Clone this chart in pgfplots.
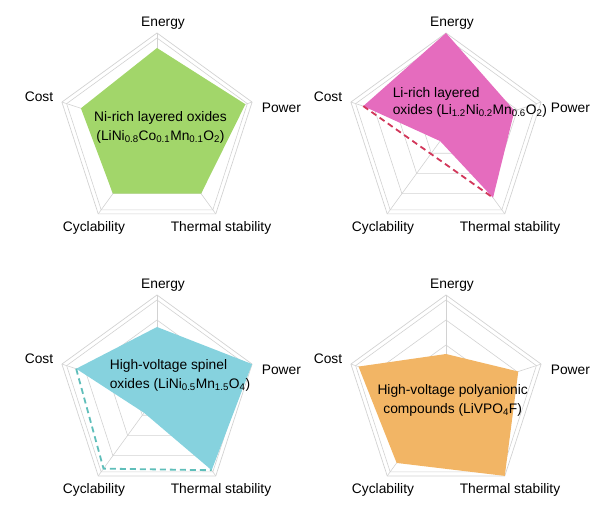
\documentclass[border=0pt]{standalone}
\usepackage{pgfplots}
\pgfplotsset{compat=1.18}
\usepackage{fontspec}
\setmainfont{Liberation Sans}

\definecolor{gridc}{RGB}{210,210,210}
\definecolor{cgreen}{RGB}{162,214,106}
\definecolor{cpink}{RGB}{229,108,190}
\definecolor{cblue}{RGB}{134,210,222}
\definecolor{corange}{RGB}{242,181,101}
\definecolor{dpink}{RGB}{210,55,90}
\definecolor{dteal}{RGB}{95,190,186}

\pgfplotsset{radar/.style={hide axis, anchor=origin, x=100bp, y=100bp,
  xmin=-1.05, xmax=1.05, ymin=-1.05, ymax=1.05, clip=false,
  every axis plot/.append style={line join=round}}}

\newcommand\radargrid{%
  \addplot[gridc, line width=0.7bp, data cs=polar] coordinates {(90,1)(18,1)(-54,1)(-126,1)(162,1)(90,1)};
  \addplot[gridc, line width=0.6bp, data cs=polar] coordinates {(90,0.95)(18,0.95)(-54,0.95)(-126,0.95)(162,0.95)(90,0.95)};
  \addplot[gridc, line width=0.6bp, data cs=polar] coordinates {(90,0.75)(18,0.75)(-54,0.75)(-126,0.75)(162,0.75)(90,0.75)};
  \addplot[gridc, line width=0.6bp, data cs=polar] coordinates {(90,0.5)(18,0.5)(-54,0.5)(-126,0.5)(162,0.5)(90,0.5)};
  \addplot[gridc, line width=0.6bp, data cs=polar] coordinates {(90,0.25)(18,0.25)(-54,0.25)(-126,0.25)(162,0.25)(90,0.25)};
  \addplot[gridc, line width=0.6bp, data cs=polar] coordinates {(90,0)(90,1)};
  \addplot[gridc, line width=0.6bp, data cs=polar] coordinates {(18,0)(18,1)};
  \addplot[gridc, line width=0.6bp, data cs=polar] coordinates {(-54,0)(-54,1)};
  \addplot[gridc, line width=0.6bp, data cs=polar] coordinates {(-126,0)(-126,1)};
  \addplot[gridc, line width=0.6bp, data cs=polar] coordinates {(162,0)(162,1)};
}
\newcommand\radarlabels{%
  \node at (0.06,1.10) {Energy};
  \node[anchor=east] at (-0.99,0.36) {Cost};
  \node[anchor=west] at (1.0,0.25) {Power};
  \node at (-0.63,-0.95) {Cyclability};
  \node at (0.64,-0.95) {Thermal stability};
}

\begin{document}
\fontsize{13.8bp}{19bp}\selectfont
\begin{tikzpicture}
% Chart 1
\begin{axis}[radar, at={(157bp,394bp)}]
  \radargrid
  \addplot[fill=cgreen, draw=none, data cs=polar] coordinates {(90,0.85)(18,0.93)(-54,0.75)(-126,0.75)(162,0.80)(90,0.85)};
  \radarlabels
  \node[align=center] at (0.035,0.06) {Ni-rich layered oxides\\(LiNi\textsubscript{0.8}Co\textsubscript{0.1}Mn\textsubscript{0.1}O\textsubscript{2})};
\end{axis}
% Chart 2
\begin{axis}[radar, at={(446bp,394bp)}]
  \radargrid
  \addplot[fill=cpink, draw=none, data cs=polar] coordinates {(90,1.0)(18,0.72)(-54,0.80)(-126,0.10)(162,0.87)(90,1.0)};
  \addplot[dpink, line width=1.8bp, dash pattern=on 6bp off 4bp, data cs=polar] coordinates {(162,0.87)(-54,0.80)};
  \radarlabels
  \node[align=left, anchor=west, font=\fontsize{13.8bp}{17bp}\selectfont] at (-0.58,0.305) {Li-rich layered\\oxides (Li\textsubscript{1.2}Ni\textsubscript{0.2}Mn\textsubscript{0.6}O\textsubscript{2})};
\end{axis}
% Chart 3
\begin{axis}[radar, at={(157bp,132bp)}]
  \radargrid
  \addplot[fill=cblue, draw=none, data cs=polar] coordinates {(90,0.68)(18,1.0)(-54,0.93)(-126,0.22)(162,0.85)(90,0.68)};
  \addplot[dteal, line width=1.8bp, dash pattern=on 6bp off 4bp, data cs=polar] coordinates {(162,0.85)(-126,0.91)(-54,0.93)};
  \radarlabels
  \node[align=left, anchor=west] at (-0.52,0.195) {High-voltage spinel\\oxides (LiNi\textsubscript{0.5}Mn\textsubscript{1.5}O\textsubscript{4})};
\end{axis}
% Chart 4
\begin{axis}[radar, at={(446bp,132bp)}]
  \radargrid
  \addplot[fill=corange, draw=none, data cs=polar] coordinates {(90,0.41)(18,0.76)(-54,1.0)(-126,0.84)(162,0.92)(90,0.41)};
  \radarlabels
  \node[align=center] at (0.067,-0.053) {High-voltage polyanionic\\compounds (LiVPO\textsubscript{4}F)};
\end{axis}
\pgfresetboundingbox
\path (0,0) rectangle (600bp,527bp);
\end{tikzpicture}
\end{document}
